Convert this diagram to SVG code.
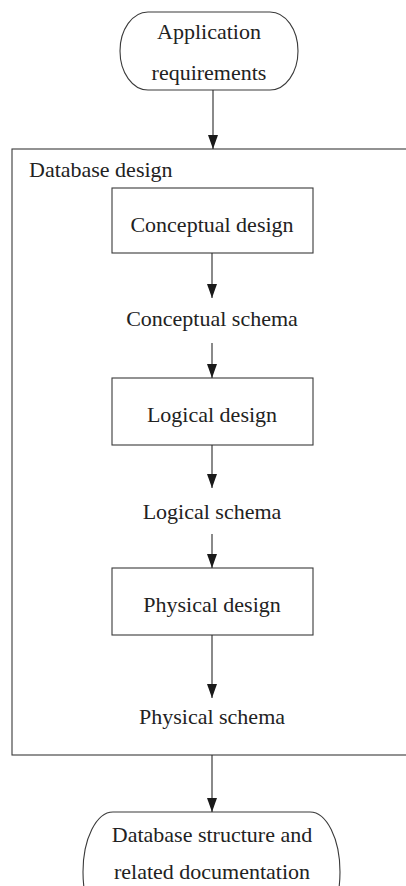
<svg xmlns="http://www.w3.org/2000/svg" width="406" height="886" viewBox="0 0 406 886">
  <style>
    .shape { fill: none; stroke: #3a3a3a; stroke-width: 1.1; }
    .conn { fill: none; stroke: #2a2a2a; stroke-width: 1.1; }
    .lbl { font-family: "Liberation Serif", "Times New Roman", serif; font-size: 22px; fill: #222; }
    .mid { text-anchor: middle; }
  </style>
  <defs>
    <marker id="tri" viewBox="0 0 14 10" refX="14" refY="5" markerWidth="14" markerHeight="10" markerUnits="userSpaceOnUse" orient="auto">
      <path d="M0,0 L14,5 L0,10 Z" fill="#1a1a1a"/>
    </marker>
  </defs>

  <!-- outer container -->
  <g id="database-design">
    <rect class="shape" x="12" y="149" width="420" height="606"/>
    <text class="lbl" x="29" y="177">Database design</text>
  </g>

  <g id="application-requirements">
    <rect class="shape" x="120" y="12" width="178" height="78" rx="28" ry="39"/>
    <text class="lbl mid" x="209" y="39">Application</text>
    <text class="lbl mid" x="209" y="80">requirements</text>
  </g>

  <g id="conceptual-design">
    <rect class="shape" x="112" y="188" width="201" height="65"/>
    <text class="lbl mid" x="212" y="232">Conceptual design</text>
  </g>

  <g id="conceptual-schema">
    <text class="lbl mid" x="212" y="326">Conceptual schema</text>
  </g>

  <g id="logical-design">
    <rect class="shape" x="112" y="378" width="201" height="67"/>
    <text class="lbl mid" x="212" y="422">Logical design</text>
  </g>

  <g id="logical-schema">
    <text class="lbl mid" x="212" y="519">Logical schema</text>
  </g>

  <g id="physical-design">
    <rect class="shape" x="112" y="568" width="201" height="67"/>
    <text class="lbl mid" x="212" y="612">Physical design</text>
  </g>

  <g id="physical-schema">
    <text class="lbl mid" x="212" y="724">Physical schema</text>
  </g>

  <g id="database-structure">
    <rect class="shape" x="83" y="812" width="257" height="120" rx="30" ry="60"/>
    <text class="lbl mid" x="212" y="842">Database structure and</text>
    <text class="lbl mid" x="212" y="879">related documentation</text>
  </g>

  <g id="connectors">
    <line class="conn" x1="213" y1="90" x2="213" y2="149" marker-end="url(#tri)"/>
    <line class="conn" x1="212" y1="253" x2="212" y2="298" marker-end="url(#tri)"/>
    <line class="conn" x1="212" y1="343" x2="212" y2="378" marker-end="url(#tri)"/>
    <line class="conn" x1="212" y1="445" x2="212" y2="488" marker-end="url(#tri)"/>
    <line class="conn" x1="212" y1="534" x2="212" y2="568" marker-end="url(#tri)"/>
    <line class="conn" x1="212" y1="635" x2="212" y2="698" marker-end="url(#tri)"/>
    <line class="conn" x1="212" y1="755" x2="212" y2="812" marker-end="url(#tri)"/>
  </g>
</svg>
